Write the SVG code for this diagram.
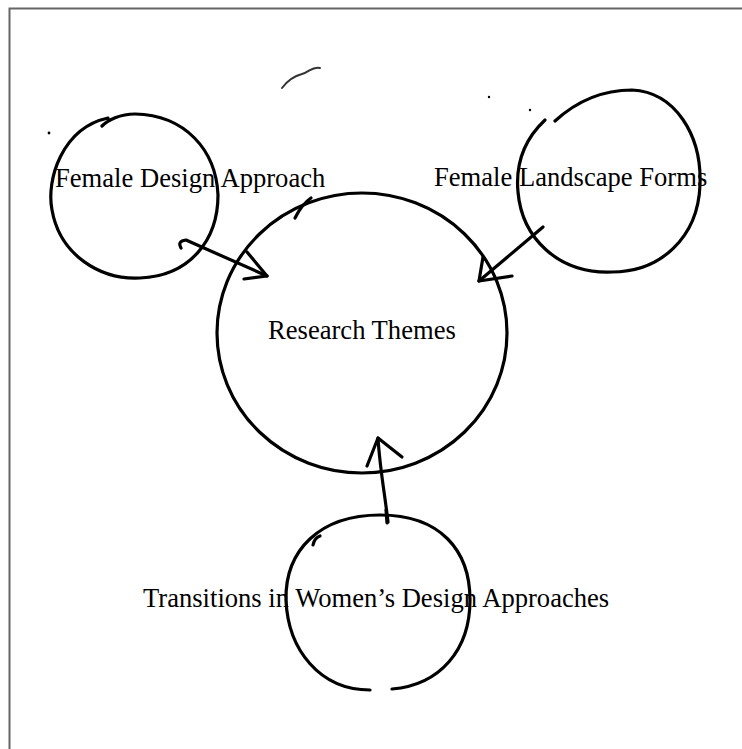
<svg xmlns="http://www.w3.org/2000/svg" width="742" height="749" viewBox="0 0 742 749">
  <style>
    .sk { fill: none; stroke: #000; stroke-width: 3.2; stroke-linecap: round; stroke-linejoin: round; }
    .thin { fill: none; stroke: #333; stroke-width: 2; stroke-linecap: round; }
    .lbl { font-family: "Liberation Serif", "Times New Roman", serif; font-size: 26.6px; fill: #000; }
    .frame { fill: none; stroke: #666; stroke-width: 2; }
  </style>
  <rect width="742" height="749" fill="#fff"/>
  <path class="frame" d="M9.5,749 L9.5,8.5 L742,8.5"/>
  <g id="marks">
    <path class="thin" d="M282,88 C288,80 294,76 302,74 C310,72 312,66 320,68"/>
    <circle cx="489" cy="97" r="1.2" fill="#000"/>
    <circle cx="530" cy="110" r="1.2" fill="#000"/>
    <circle cx="49" cy="133" r="1.4" fill="#000"/>
  </g>
  <g id="node-female-design">
    <path class="sk" d="M108,118 C62,128 46,180 52,210 C60,255 100,280 140,278 C190,276 218,240 218,195 C216,150 185,115 135,114 C120,114 108,120 102,126"/>
    <text class="lbl" x="55" y="187">Female Design Approach</text>
  </g>
  <g id="node-female-landscape">
    <path class="sk" d="M555,121 C578,100 605,90 632,90 C675,92 702,135 700,185 C698,238 660,272 612,272 C558,274 522,238 518,192 C515,160 528,136 545,120"/>
    <text class="lbl" x="434" y="186">Female Landscape Forms</text>
  </g>
  <g id="node-research">
    <ellipse class="sk" cx="362" cy="333" rx="145" ry="140"/>
    <path class="sk" d="M295,218 C300,208 305,202 311,198"/>
    <text class="lbl" x="268" y="339">Research Themes</text>
  </g>
  <g id="node-transitions">
    <path class="sk" d="M370,690 C320,690 288,650 286,600 C285,550 320,515 380,515 C440,515 470,550 470,600 C470,650 440,685 392,689"/>
    <path class="sk" d="M313,545 C314,540 317,537 320,536"/>
    <text class="lbl" x="143" y="607">Transitions in Women’s Design Approaches</text>
  </g>
  <g id="connectors">
    <path class="sk" d="M181,248 Q177,241 186,240 L267,276"/>
    <path class="sk" d="M247,252 L267,276 L244,279"/>
    <path class="sk" d="M543,227 L479,281"/>
    <path class="sk" d="M483,257 L479,281 L512,276"/>
    <path class="sk" d="M388,522 C385,495 380,470 378,438"/>
    <path class="sk" d="M367,466 L378,438 L402,457"/>
    <path class="sk" d="M386,510 L387,523" stroke-width="5"/>
  </g>
</svg>
